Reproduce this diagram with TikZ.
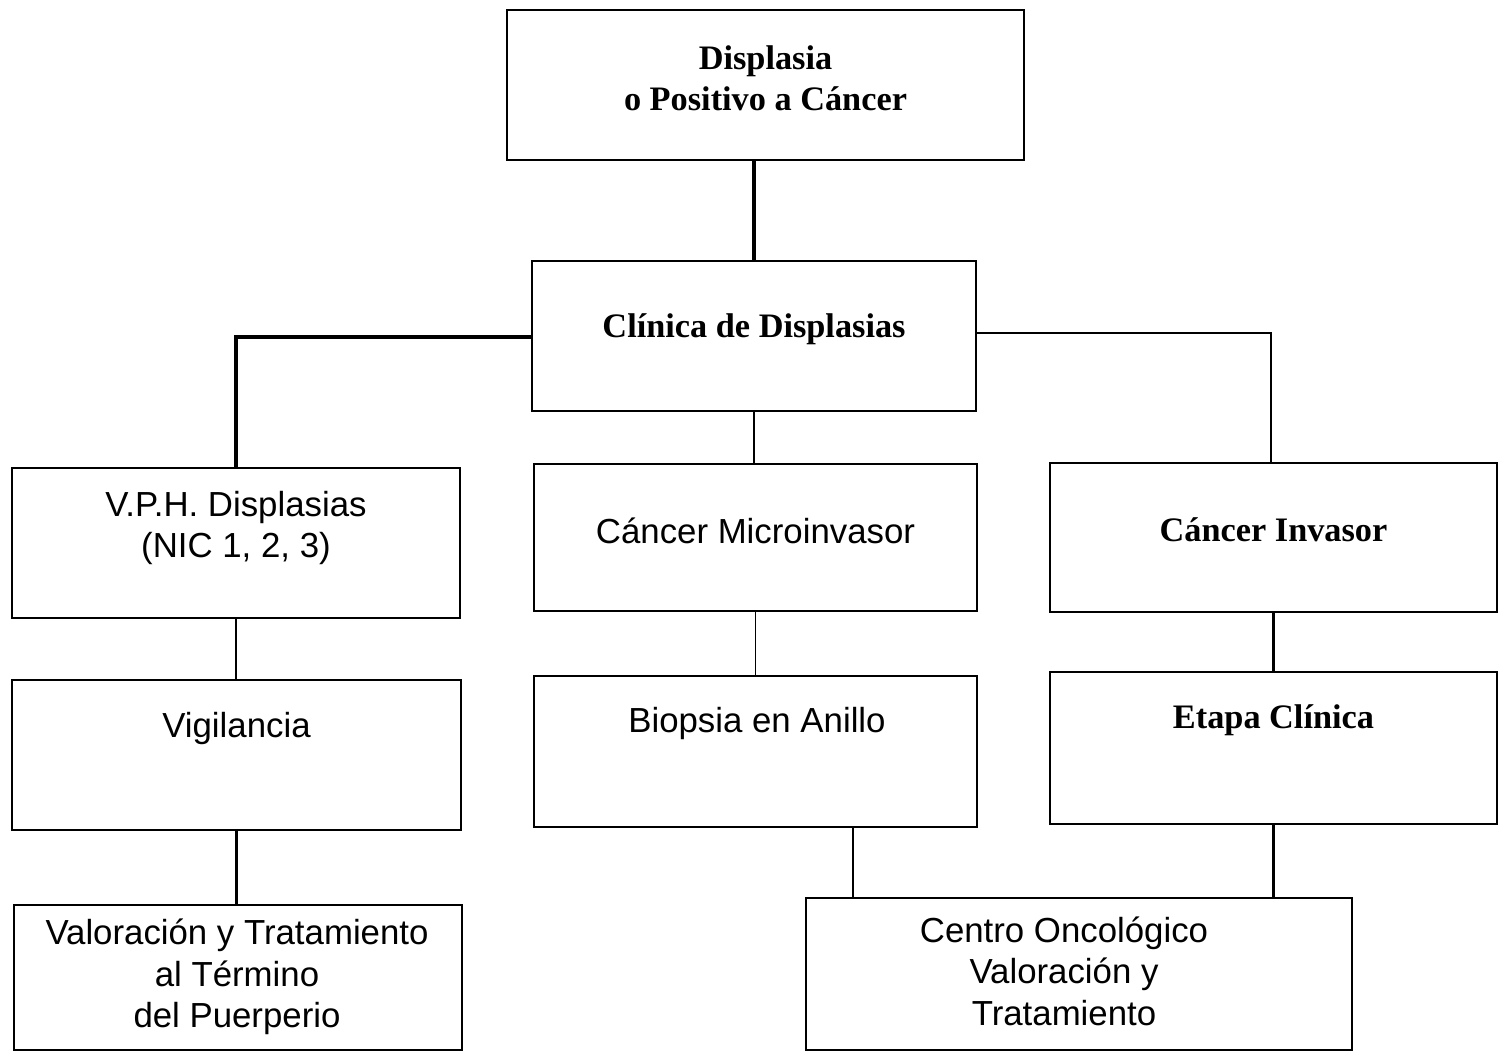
\documentclass[tikz,border=0pt]{standalone}
\usepackage{fontspec}
\setmainfont{Liberation Serif}
\newfontfamily\arialf{Liberation Sans}
\begin{document}
\begin{tikzpicture}[x=1pt,y=-1pt,
  box/.style={draw=black, line width=2pt, rectangle, inner sep=0pt},
  sertxt/.style={align=center, font=\fontsize{34.3}{41}\selectfont\bfseries, inner sep=0pt},
  santxt/.style={align=center, font=\fontsize{34.8}{41.5}\selectfont\arialf, inner sep=0pt},
  thickln/.style={line width=3.2pt},
  midln/.style={line width=2.4pt},
  thinln/.style={line width=1.5pt}]
\useasboundingbox (0,0) rectangle (1504,1055);
% boxes
\node[box, minimum width=517pt, minimum height=150pt] (top) at (765.5,85) {};
\node[box, minimum width=444pt, minimum height=150pt] (clin) at (754,336) {};
\node[box, minimum width=448pt, minimum height=150pt] (vph) at (236,543) {};
\node[box, minimum width=443pt, minimum height=147pt] (mic) at (755.5,537.5) {};
\node[box, minimum width=447pt, minimum height=149pt] (inv) at (1273.5,537.5) {};
\node[box, minimum width=449pt, minimum height=150pt] (vig) at (236.5,755) {};
\node[box, minimum width=443pt, minimum height=151pt] (bio) at (755.5,751.5) {};
\node[box, minimum width=447pt, minimum height=152pt] (eta) at (1273.5,748) {};
\node[box, minimum width=448pt, minimum height=145pt] (val) at (238,977.5) {};
\node[box, minimum width=546pt, minimum height=152pt] (cen) at (1079,974) {};
% texts
\node[sertxt] (ttop) at (765.5,78) {Displasia\\o Positivo a Cáncer};
\node[sertxt] (tclin) at (754,329) {Clínica de Displasias};
\node[santxt] (tvph) at (236,528) {V.P.H. Displasias\\(NIC 1, 2, 3)};
\node[santxt] (tmic) at (755.5,531) {Cáncer Microinvasor};
\node[sertxt] (tinv) at (1273.5,530) {Cáncer Invasor};
\node[santxt] (tvig) at (236.5,728) {Vigilancia};
\node[santxt] (tbio) at (757,723) {Biopsia en Anillo};
\node[sertxt] (teta) at (1273.5,720) {Etapa Clínica};
\node[santxt] (tval) at (237,977) {Valoración y Tratamiento\\al Término\\del Puerperio};
\node[santxt] (tcen) at (1064,971) {Centro Oncológico\\Valoración y\\Tratamiento};
% connectors
\draw[thickln] (clin.north |- top.south) -- (clin.north);
\draw[thickln] ([yshift=-1pt]clin.west) -| (vph.north);
\draw[thinln] (clin.south) -- (clin.south |- mic.north);
\draw[midln] ([yshift=3pt]clin.east) -| ([xshift=-2.5pt]inv.north);
\draw[thinln] (vph.south) -- (vph.south |- vig.north);
\draw[thickln] (vig.south) -- (vig.south |- val.north);
\draw[thinln] (mic.south) -- (mic.south |- bio.north);
\draw[thickln] (inv.south) -- (inv.south |- eta.north);
\draw[thinln] ([xshift=97.5pt]bio.south) -- ([xshift=97.5pt]bio.south |- cen.north);
\draw[thickln] (eta.south) -- (eta.south |- cen.north);
\end{tikzpicture}
\end{document}
